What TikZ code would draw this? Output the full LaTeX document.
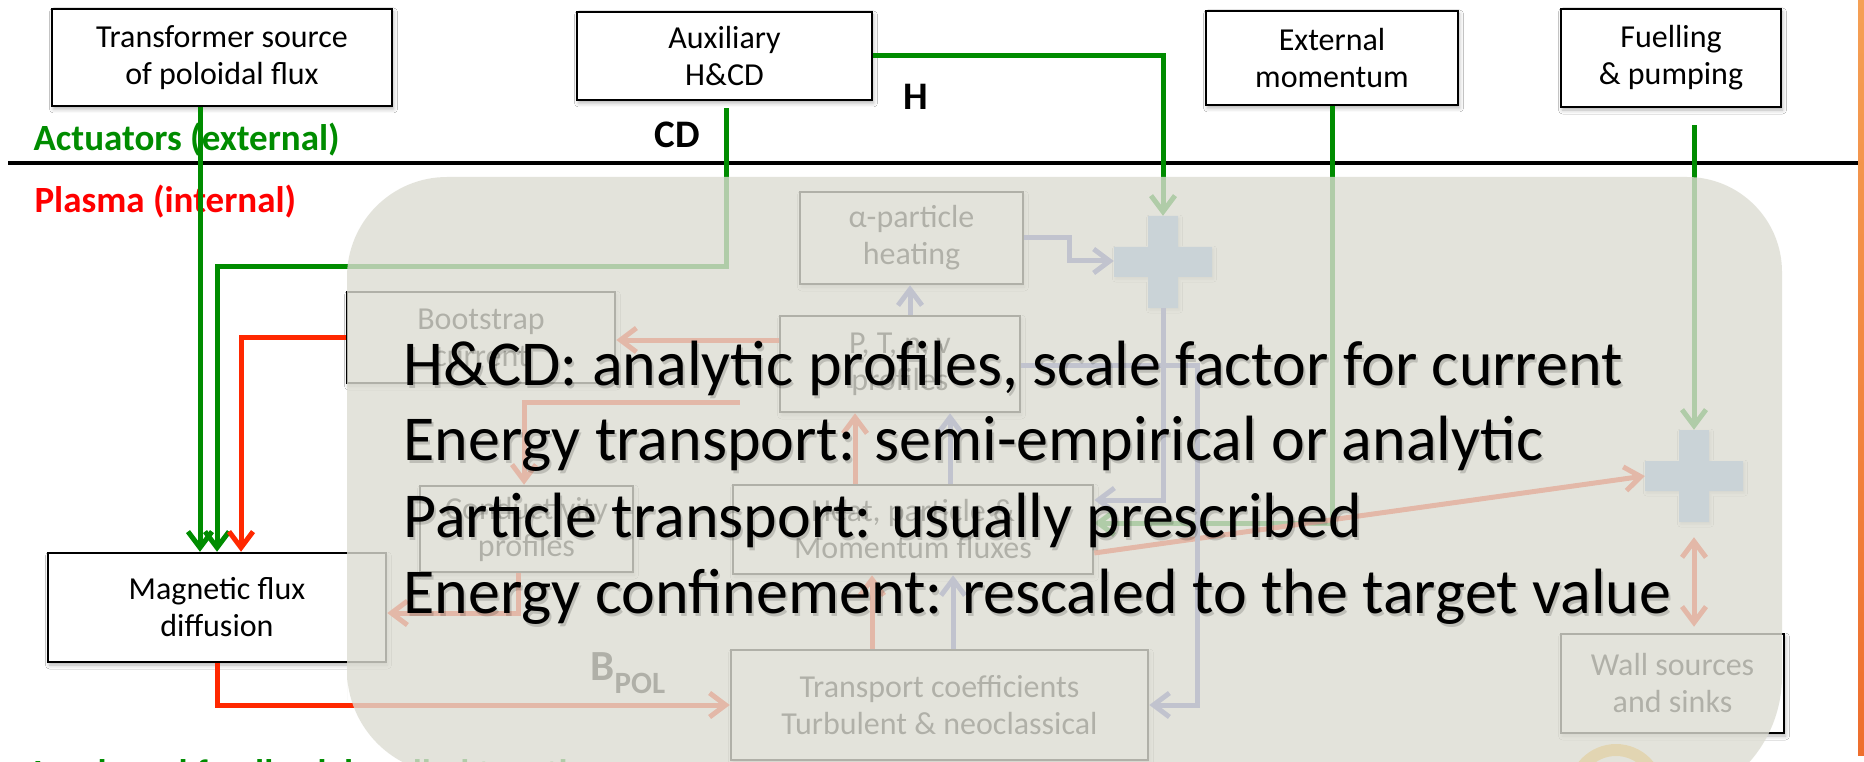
\documentclass[tikz,border=0pt]{standalone}
\usepackage{fontspec}
\setmainfont{Carlito}
\usetikzlibrary{arrows.meta,shadows.blur}

\definecolor{actgreen}{RGB}{0,140,0}
\definecolor{fbred}{RGB}{255,40,0}
\definecolor{lblred}{RGB}{255,0,0}
\definecolor{flowblue}{RGB}{85,95,190}
\definecolor{plusblue}{RGB}{130,175,235}
\definecolor{veil}{RGB}{221,221,211}
\definecolor{bartop}{RGB}{245,160,85}
\definecolor{barbot}{RGB}{238,110,45}
\definecolor{logoyel}{RGB}{250,185,50}

\tikzset{
  box/.style={draw=black, line width=2.5pt, fill=white, inner sep=0pt,
    font=\fontsize{32}{37}\selectfont, align=center,
    blur shadow={shadow xshift=1.5pt, shadow yshift=-3pt,
      shadow blur radius=4pt, shadow opacity=30}},
  plusnode/.style={minimum width=98pt, minimum height=92pt, inner sep=0pt},
  conn/.style={line width=5pt},
  gline/.style={conn, draw=actgreen},
  rline/.style={conn, draw=fbred},
  bline/.style={conn, draw=flowblue},
  tip/.style={-{Straight Barb[length=16pt,width=24pt]}},
  twotip/.style={{Straight Barb[length=16pt,width=24pt]}-{Straight Barb[length=16pt,width=24pt]}},
  lbl/.style={font=\bfseries\fontsize{37}{37}\selectfont, anchor=west},
  flowlbl/.style={font=\bfseries\fontsize{39}{39}\selectfont},
  summary/.style={font=\fontsize{64}{76}\selectfont, anchor=base west},
  summaryshade/.style={summary, text=black, opacity=0.16},
}

% cross-shaped summing junction centred on a node
\newcommand\crossshape[1]{%
  \path[fill=plusblue, blur shadow={shadow xshift=1.5pt, shadow yshift=-2pt,
      shadow blur radius=3pt, shadow opacity=25}]
    (#1.center) ++(-15,-46) -- ++(30,0) -- ++(0,31) -- ++(34,0) -- ++(0,30)
    -- ++(-34,0) -- ++(0,31) -- ++(-30,0) -- ++(0,-31) -- ++(-34,0)
    -- ++(0,-30) -- ++(34,0) -- cycle;}

\begin{document}
\begin{tikzpicture}[x=1pt, y=-1pt]
\useasboundingbox (0,0) rectangle (1864,762);
\fill[white] (0,0) rectangle (1864,762);

% side bar and divider
\shade[top color=bartop, bottom color=barbot] (1858,0) rectangle (1864,755);
\draw[line width=4.5pt] (8,163) -- (1858,163);

% region labels
\node[lbl, text=actgreen] (act) at (30,140) {Actuators (external)};
\node[lbl, text=lblred] (pla) at (31,202) {Plasma (internal)};
\node[flowlbl] (cdl) at (677,135) {CD};
\node[flowlbl] (hl) at (916,97) {H};
% caption running off the foot of the page
\node[font=\bfseries\fontsize{37}{37}\selectfont, text=actgreen, anchor=base west]
  (foot) at (30,785) {Loads and feedback handled together};

% actuators
\node[box, minimum width=340pt, minimum height=97pt] (trans) at (222,57.5) {Transformer source\\of poloidal flux};
\node[box, minimum width=295pt, minimum height=88pt] (aux) at (724.5,56) {Auxiliary\\H\&CD};
\node[box, minimum width=252pt, minimum height=94pt] (ext) at (1332,58) {External\\momentum};
\node[box, minimum width=220pt, minimum height=98pt] (fuel) at (1671,58) {Fuelling\\\& pumping};

% plasma blocks
\node[box, minimum width=223pt, minimum height=92pt] (alpha) at (911.5,238) {α-particle\\heating};
\node[box, minimum width=268pt, minimum height=91pt] (boot) at (481,337.5) {Bootstrap\\current};
\node[box, minimum width=240pt, minimum height=96pt] (pbox) at (900,364) {P, T, n, v\\profiles};
\node[box, minimum width=213pt, minimum height=86pt] (cond) at (526.5,529) {Conductivity\\profiles};
\node[box, minimum width=360pt, minimum height=89pt] (heat) at (913,529.5) {Heat, particle \&\\Momentum fluxes};
\node[box, minimum width=338pt, minimum height=109pt] (mag) at (217,607.5) {Magnetic flux\\diffusion};
\node[box, minimum width=417pt, minimum height=110pt] (tc) at (939.5,705) {Transport coefficients\\Turbulent \& neoclassical};
\node[box, minimum width=223pt, minimum height=99pt] (wall) at (1672.5,683.5) {Wall sources\\and sinks};

\node[plusnode] (plus1) at (1163,262) {};
\node[plusnode] (plus2) at (1694,476) {};
\crossshape{plus1}
\crossshape{plus2}

\node[font=\bfseries\fontsize{43}{43}\selectfont, anchor=base west] (bpol) at (587,680)
  {B\raisebox{-13pt}{\fontsize{31}{31}\selectfont POL}};

% logo ring at the foot of the panel
\draw[line width=12pt, draw=logoyel] (1616,792) circle[radius=42];

% actuator connections
\draw[gline, tip] (200,0 |- trans.south) -- (200,0 |- mag.north);
\draw[gline, tip] ([yshift=-7pt]aux.south -| 726,0) -- (726,267) -| (217,0 |- mag.north);
\draw[gline, tip] (aux.east |- 0,56) -| (plus1.north);
\draw[gline, tip] (ext.south) |- (heat.east |- 0,523);
\draw[gline, tip] ([yshift=-17pt]fuel.south -| plus2.north) -- (plus2.north);

% current and flux loop
\draw[rline, tip] (boot.west |- 0,337) -| (241,0 |- mag.north);
\draw[rline, tip] (217,0 |- mag.south) |- (tc.west |- 0,705);
\draw[rline, tip] (pbox.west |- 0,340) -- (boot.east |- 0,340);
\coordinate (feed) at (740,402);
\draw[rline, tip] (feed) -| (524,0 |- cond.north);
\draw[rline, tip] (518,0 |- cond.south) |- (mag.east |- 0,613);
\draw[rline, tip] (855,0 |- heat.north) -- (855,0 |- pbox.south);
\draw[rline, tip] (872,0 |- tc.north) -- (872,0 |- heat.south);
\draw[rline, tip] (heat.east |- 0,553) -- (plus2.west);
\draw[rline, twotip] ([yshift=-15pt]plus2.south) -- ([yshift=6pt]wall.north -| plus2.south);

% energy loop
\draw[bline, tip] (910,0 |- pbox.north) -- (910,0 |- alpha.south);
\draw[bline, tip] (alpha.east |- 0,238) -| (1069,261) -- (plus1.west |- 0,261);
\draw[bline, tip] (plus1.south) |- (heat.east |- 0,500);
\draw[bline, tip] (pbox.east |- 0,365) -| (1197,705) -- (tc.east |- 0,705);
\draw[bline, tip] (950,0 |- heat.north) -- (950,0 |- pbox.south);
\draw[bline, tip] (953,0 |- tc.north) -- (953,0 |- heat.south);

% translucent panel
\path[fill=veil, fill opacity=0.8]
  (347,700) -- (347,277) arc[start angle=180, end angle=270, radius=100]
  -- (1687,177) arc[start angle=270, end angle=360, radius=95]
  -- (1782,676) arc[start angle=0, end angle=90, radius=130]
  -- (451,774) arc[start angle=90, end angle=180, radius=104] -- cycle;

% model summary
\node[summaryshade] at (402,388) {H\&CD: analytic profiles, scale factor for current};
\node[summaryshade] at (402,463) {Energy transport: semi-empirical or analytic};
\node[summaryshade] at (402,540) {Particle transport: usually prescribed};
\node[summaryshade] at (402,616) {Energy confinement: rescaled to the target value};
\node[summary] (s1) at (400,385) {H\&CD: analytic profiles, scale factor for current};
\node[summary] (s2) at (400,460) {Energy transport: semi-empirical or analytic};
\node[summary] (s3) at (400,537) {Particle transport: usually prescribed};
\node[summary] (s4) at (400,613) {Energy confinement: rescaled to the target value};
\end{tikzpicture}
\end{document}
